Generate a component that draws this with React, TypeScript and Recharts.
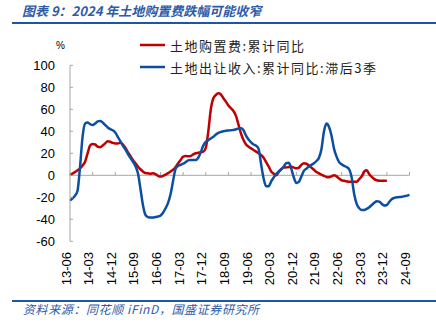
import React from 'react';
import {
    LineChart,
    Line,
    XAxis,
    YAxis,
    ReferenceLine,
    Legend
} from 'recharts';

// monthly categories 2013-06 .. 2024-09
const startYear = 2013;
const startMonth = 6;
const monthCount = 136;
const months: string[] = [];
for (let i = 0; i < monthCount; i++) {
    const m = startMonth - 1 + i;
    const yy = String((startYear + Math.floor(m / 12)) % 100).padStart(2, '0');
    const mm = String((m % 12) + 1).padStart(2, '0');
    months.push(`${yy}-${mm}`);
}

const tickLabels = [
    '13-06', '14-03', '14-12', '15-09', '16-06', '17-03', '17-12', '18-09',
    '19-06', '20-03', '20-12', '21-09', '22-06', '23-03', '23-12', '24-09'
];

const yTicks = [-60, -40, -20, 0, 20, 40, 60, 80, 100];

// 土地购置费:累计同比 (%)
const landPurchase = [
    0, 1.5, 3, 4.5, 6.3, 9, 12.4, 20, 27, 28.5, 28, 26, 25.5, 27, 29, 31, 30.5, 29.5, 29, 29,
    29.5, 28, 25, 21, 17.5, 14, 11, 8, 5.5, 3.5, 2, 1.8, 1.5, 1.8, 1, -0.5, -1.2, -0.5, 0.6, 2,
    3.5, 5, 7.5, 11, 14, 17, 17.5, 17.3, 17.5, 19, 20, 20.5, 21, 21.5, 25, 40, 60, 70, 73, 74.5,
    73.5, 70, 67, 63.5, 61, 58.5, 54, 46, 38, 32, 28, 26, 24.5, 23, 21.5, 20, 18.5, 16, 12, 8,
    3.5, 1.5, 0, 3, 5.5, 7, 7.2, 7.5, 7.8, 7, 6.3, 7, 9.5, 11, 10.5, 9, 7, 5, 3, 1.8,
    0.5, -0.5, -1.5, -1.8, -1, 0, -1, -3, -4.5, -5, -5.5, -5.8, -5.8, -5.8, -5.8, -3.5, -1, 3.5, 4.5, 1,
    -1.5, -3.5, -4.5, -5, -5, -5, -5
];

// 土地出让收入:累计同比:滞后3季 (%)
const landSales = [
    -23, -21, -18.5, -14, 8, 35, 47, 48, 46.5, 45.7, 47, 49, 49.4, 48, 45.7, 43.5, 42, 41, 39, 35,
    31, 27, 23.5, 19.5, 16, 12.5, 8.5, 2, -12, -27, -36, -38, -38.4, -38.4, -38, -37.5, -36.5, -34, -30, -25,
    -17, -5, 6, 8.5, 9.5, 10.5, 12, 13.5, 14, 14, 14, 16, 21, 27, 30.5, 32, 33.6, 35, 37, 38.5,
    39.5, 40, 40.5, 40.7, 41, 41.2, 41.8, 42.5, 42.7, 41, 36, 32.5, 30, 28, 27, 24, 10, -3, -10, -10,
    -5.5, -2, 1.2, 3.5, 5.5, 8, 11, 11.5, 6, -2, -7, -6, -1, 4, 6, 8, 9.5, 11, 13, 16,
    24, 40, 47, 44, 36, 24, 17, 12, 10, 8.5, 7.5, 5.5, -2, -17, -26, -30, -31.5, -31.5, -30.5, -29,
    -27, -25, -23.5, -24, -26, -27.5, -27, -24, -21.5, -20.5, -20, -19.8, -19.5, -19, -18.5, -17.8
];

const data = months.map((month, i) => ({
    month,
    purchase: landPurchase[i] ?? null,
    sales: landSales[i] ?? null,
}));

const legendOrder = ['purchase', 'sales'];

const RED = '#C00000';
const BLUE = '#0B4EA2';
const AXIS = '#A6A6A6';
const TITLE_BLUE = '#2E5BA8';
const numFont = '"Liberation Sans", Arial, sans-serif';
const cjkFont = '"Noto Sans CJK SC", sans-serif';

const XTick = (props: any) => {
    const { x, payload } = props;
    return (
        <text
            x={x}
            y={252}
            transform={`rotate(-90 ${x} 252)`}
            textAnchor="end"
            dy={0.5}
            fontSize={13}
            fontFamily={numFont}
            fill="#000"
        >
            {payload.value}
        </text>
    );
};

const YTick = (props: any) => {
    const { x, y, payload } = props;
    return (
        <g>
            <line x1={x + 15} x2={x + 18} y1={y} y2={y} stroke={AXIS} />
            <text x={x} y={y} dy={4.5} textAnchor="end" fontSize={13} fontFamily={numFont} fill="#000">
                {payload.value}
            </text>
        </g>
    );
};

const LegendBox = (props: any) => {
    const items = [...(props.payload || [])].sort(
        (a: any, b: any) => legendOrder.indexOf(a.dataKey) - legendOrder.indexOf(b.dataKey)
    );
    return (
        <div>
            {items.map((item: any) => (
                <div key={item.value} style={{ display: 'flex', alignItems: 'center', height: 22.3 }}>
                    <svg width={30} height={10}>
                        <line x1={0} x2={25} y1={5} y2={5} stroke={item.color} strokeWidth={2.5} />
                    </svg>
                    <span style={{ fontFamily: cjkFont, fontSize: 13, letterSpacing: 1.5, color: '#222', whiteSpace: 'nowrap' }}>
                        {item.value}
                    </span>
                </div>
            ))}
        </div>
    );
};

export default function App() {
    return (
        <div style={{ position: 'absolute', left: 0, top: 0, width: 436, height: 329, background: '#fff' }}>
            <div
                style={{
                    position: 'absolute', left: 22, top: 1, fontFamily: cjkFont, fontSize: 13,
                    fontStyle: 'italic', fontWeight: 600, color: TITLE_BLUE, whiteSpace: 'nowrap'
                }}
            >
                图表 9：2024 年土地购置费跌幅可能收窄
            </div>
            <div style={{ position: 'absolute', left: 12, top: 21.5, width: 424, height: 2, background: '#1E55A8' }} />
            <div style={{ position: 'absolute', left: 56, top: 40, fontFamily: numFont, fontSize: 10, color: '#000' }}>%</div>
            <LineChart
                width={436}
                height={329}
                data={data}
                margin={{ top: 65.3, right: 26.5, left: 0, bottom: 37.7 }}
                style={{ position: 'absolute', left: 0, top: 0 }}
            >
                <XAxis
                    dataKey="month"
                    interval={8}
                    tick={<XTick />}
                    tickLine={false}
                    axisLine={false}
                    height={50}
                />
                <YAxis
                    domain={[-60, 100]}
                    ticks={yTicks}
                    tick={<YTick />}
                    tickLine={false}
                    tickSize={0}
                    tickMargin={15}
                    axisLine={{ stroke: AXIS }}
                    width={70}
                    interval={0}
                />
                <ReferenceLine y={0} stroke={AXIS} />
                {tickLabels.map((t) => (
                    <ReferenceLine
                        key={t}
                        segment={[{ x: t, y: 0 }, { x: t, y: 3 }]}
                        stroke={AXIS}
                    />
                ))}
                <Legend
                    layout="vertical"
                    align="center"
                    verticalAlign="middle"
                    content={<LegendBox />}
                    wrapperStyle={{ left: 140, top: 34, width: 'auto', height: 'auto' }}
                />
                <Line
                    type="monotone"
                    dataKey="purchase"
                    name="土地购置费:累计同比"
                    stroke={RED}
                    strokeWidth={2.5}
                    dot={false}
                    isAnimationActive={false}
                />
                <Line
                    type="monotone"
                    dataKey="sales"
                    name="土地出让收入:累计同比:滞后3季"
                    stroke={BLUE}
                    strokeWidth={2.5}
                    dot={false}
                    isAnimationActive={false}
                />
            </LineChart>
            <div style={{ position: 'absolute', left: 12, top: 300, width: 424, height: 2, background: '#1E55A8' }} />
            <div
                style={{
                    position: 'absolute', left: 23, top: 300, fontFamily: cjkFont, fontSize: 12,
                    fontStyle: 'italic', color: TITLE_BLUE, whiteSpace: 'nowrap', letterSpacing: 0.6
                }}
            >
                资料来源：同花顺 iFinD，国盛证券研究所
            </div>
        </div>
    );
}
